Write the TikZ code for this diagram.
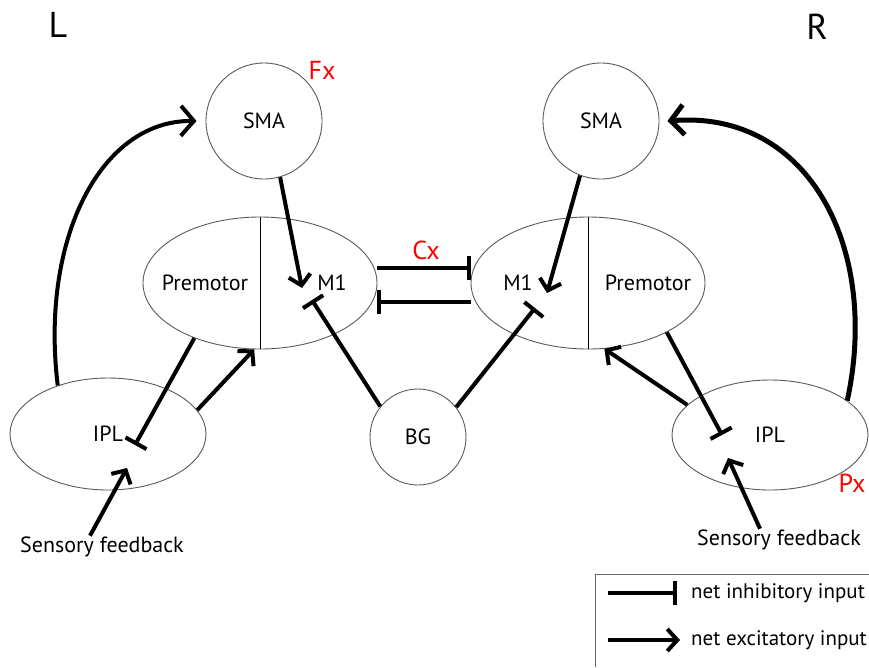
\documentclass[tikz,border=0pt]{standalone}
\usepackage{fontspec}
\setmainfont{PT Sans}
\usetikzlibrary{shapes.geometric,arrows.meta}

\begin{document}
\begin{tikzpicture}[x=1pt, y=-1pt,
  lbl/.style={font=\fontsize{22}{26}\selectfont, inner sep=1pt},
  keytext/.style={font=\fontsize{21}{25}\selectfont, inner sep=1pt, anchor=west},
  side/.style={font=\fontsize{36}{40}\selectfont},
  tag/.style={text=red, font=\fontsize{26}{30}\selectfont},
  area/.style={draw=black!65, line width=0.9pt, lbl},
  blob/.style={area, circle, inner sep=0pt},
  lobe/.style={area, ellipse, inner sep=0pt},
  excite/.style={line width=4pt, -{Straight Barb[length=10pt, width=22pt]}},
  bigexcite/.style={line width=4pt, -{Straight Barb[length=13pt, width=30pt]}},
  inhibit/.style={line width=4pt, -{Bar[width=24pt]}},
]
  \useasboundingbox (0,0) rectangle (869,667);
  \node[side] (left) at (58,25) {L};
  \node[side] (right) at (817,27) {R};
  \node[blob, minimum size=116pt] (lsma) at (264,121) {SMA};
  \node[tag] (fx) at (322,70) {Fx};
  \node[blob, minimum size=116pt] (rsma) at (601,121) {SMA};
  \node[lobe, minimum width=234pt, minimum height=132pt] (lctx) at (260,283) {};
  \node[lobe, minimum width=234pt, minimum height=132pt] (rctx) at (588,283) {};
  \draw[line width=0.8pt] (lctx.north) -- (lctx.south);
  \draw[line width=0.8pt] (rctx.north) -- (rctx.south);
  \node[lbl] (lpre) at (205,283) {Premotor};
  \node[lbl] (lmone) at (332,283) {M1};
  \node[lbl] (rmone) at (518,283) {M1};
  \node[lbl] (rpre) at (648,283) {Premotor};
  \node[tag] (cx) at (426,250) {Cx};
  \node[lobe, minimum width=196pt, minimum height=112pt] (lipl) at (108,434) {IPL};
  \node[lobe, minimum width=196pt, minimum height=110pt] (ripl) at (770,435) {IPL};
  \node[tag] (px) at (852,483) {Px};
  \node[blob, minimum size=96pt] (bg) at (418,437) {BG};
  \node[lbl] (lsens) at (102,547) {Sensory feedback};
  \node[lbl] (rsens) at (779,540) {Sensory feedback};

  % tips that sit inside the areas
  \coordinate (lmtip) at (302,288);
  \coordinate (rmtip) at (547,293);
  \coordinate (lmbar) at (312,300);
  \coordinate (rmbar) at (535,308);
  \coordinate (liplbar) at (135,445);
  \coordinate (riplbar) at (722,435);
  \coordinate (lsenstip) at (127,468);
  \coordinate (rsenstip) at (728,458);

  \draw[excite] (lsma.-74) -- (lmtip);
  \draw[excite] (rsma.-111) -- (rmtip);
  \draw[inhibit] (bg.141) -- (lmbar);
  \draw[inhibit] (bg.38) -- (rmbar);
  \draw[inhibit] ([yshift=15pt]lctx.east) -- ([yshift=15pt]rctx.west);
  \draw[inhibit] ([yshift=-19pt]rctx.west) -- ([yshift=-19pt]lctx.east);

  \draw[excite] (lipl.15) -- (lctx.-95);
  \draw[inhibit] (lctx.-140) -- (liplbar);
  \draw[excite] ([xshift=-12pt]lsens.north) -- (lsenstip);
  \draw[bigexcite] (lipl.136) .. controls (40,240) and (100,120) .. ([xshift=-9pt]lsma.west);

  \draw[bigexcite, line width=5pt] (ripl.24) .. controls (880,250) and (810,110) .. ([xshift=8pt]rsma.east);
  \draw[excite] (ripl.160) -- (rctx.-76);
  \draw[inhibit] (rctx.-32) -- (riplbar);
  \draw[excite] ([xshift=-19pt]rsens.north) -- (rsenstip);

  % key
  \draw[black!60, line width=0.8pt] (595,667) -- (595,574) -- (869,574);
  \node[keytext] (inhkey) at (690,593) {net inhibitory input};
  \node[keytext] (exckey) at (690,640) {net excitatory input};
  \draw[inhibit] ([xshift=-82pt]inhkey.west) -- ([xshift=-13pt]inhkey.west);
  \draw[excite] ([xshift=-82pt]exckey.west) -- ([xshift=-10pt]exckey.west);
\end{tikzpicture}
\end{document}
